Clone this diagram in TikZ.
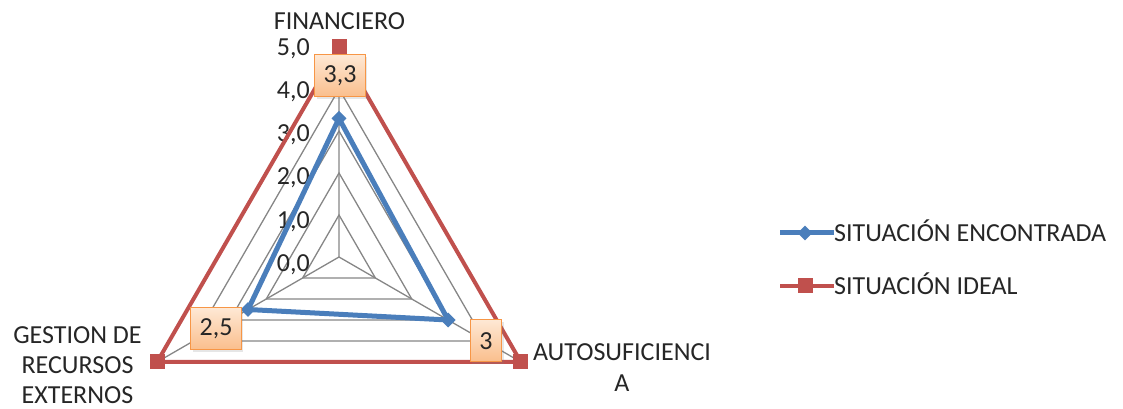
\documentclass[tikz,border=0pt]{standalone}
\usepackage{fontspec}
\setmainfont{Carlito}
\usetikzlibrary{shapes,arrows,positioning,calc,arrows.meta,shadows}

\definecolor{encblue}{RGB}{74,126,187}
\definecolor{idealred}{RGB}{192,80,77}
\definecolor{boxedge}{RGB}{247,150,70}
\definecolor{boxtop}{RGB}{254,232,212}
\definecolor{boxbot}{RGB}{250,190,140}
\definecolor{gridgray}{RGB}{134,134,134}

\begin{document}
\begin{tikzpicture}[x=1pt, y=1pt,
        every node/.style={inner sep=0pt, font=\fontsize{26}{30}\selectfont, text=black!85},
        gridline/.style={gridgray, line width=1.3pt},
        encline/.style={encblue, line width=5pt, line join=round},
        idealline/.style={idealred, line width=4pt, line join=round},
        encmark/.style={diamond, fill=encblue, minimum size=15pt},
        idealmark/.style={rectangle, fill=idealred, minimum size=15pt},
        valbox/.style={draw=boxedge, line width=1pt, top color=boxtop, bottom color=boxbot, inner xsep=9pt, minimum height=42pt,
            drop shadow={opacity=0.2, shadow xshift=2pt, shadow yshift=-2pt}}]
        \useasboundingbox (0,0) rectangle (1123,409);

        \begin{scope}[shift={(339,152)}]
            \coordinate (C) at (0,0);
            % rings
            \foreach \k in {1,...,5} {
               \coordinate (fin\k) at (90:\k*42);
               \coordinate (aut\k) at (-30:\k*42);
               \coordinate (ges\k) at (210:\k*42);
               \draw[gridline] (fin\k) -- (aut\k) -- (ges\k) -- cycle;
            }
            \draw[gridline] (C) -- (fin5) (C) -- (aut5) (C) -- (ges5);
            \foreach \k in {0,...,5} {
               \node[anchor=base east] (tick\k) at (-29, \k*43.2-14.4) {\k,0};
            }

            % data
            \coordinate (encF) at (90:3.3*42);
            \coordinate (encA) at (-30:3*42);
            \coordinate (encG) at (210:2.5*42);
            \draw[idealline] (fin5) -- (aut5) -- (ges5) -- cycle;
            \draw[encline] (encF) -- (encA) -- (encG) -- cycle;
            \foreach \p in {fin5,aut5,ges5} \node[idealmark] (m\p) at (\p) {};
            \foreach \p in {encF,encA,encG} \node[encmark] (m\p) at (\p) {};
        \end{scope}

        % value labels
        \node[valbox] (valF) at (340,333) {3,3};
        \node[valbox] (valG) at (216,80) {2,5};
        \node[valbox] (valA) at (486,68) {3};

        % axis names
        \node[anchor=base] (labF) at (339.5,379) {FINANCIERO};
        \node[align=center] (labG) at (77.5,44) {GESTION DE\\RECURSOS\\EXTERNOS};
        \node[align=center, font=\fontsize{26}{31}\selectfont] (labA) at (622,41.5) {AUTOSUFICIENCI\\A};

        % legend
        \coordinate (legEnc) at (780,176);
        \coordinate (legIdeal) at (780,123);
        \node[anchor=base west] (txtEnc) at (834,167.6) {SITUACIÓN ENCONTRADA};
        \node[anchor=base west] (txtIdeal) at (834,114.6) {SITUACIÓN IDEAL};
        \draw[encline] (legEnc) -- (legEnc -| txtEnc.west);
        \draw[idealline] (legIdeal) -- (legIdeal -| txtIdeal.west);
        \node[encmark] (mkEnc) at (805,176) {};
        \node[idealmark] (mkIdeal) at (805,123) {};
    \end{tikzpicture}
\end{document}
